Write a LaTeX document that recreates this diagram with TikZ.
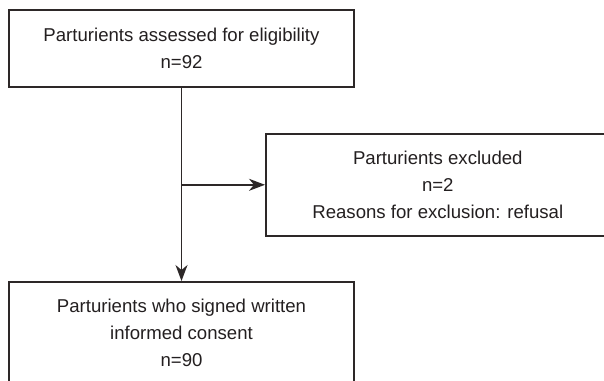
\documentclass[tikz,border=0pt]{standalone}
\usepackage{fontspec}
\setmainfont{Liberation Sans}
\usetikzlibrary{arrows.meta, positioning}
\definecolor{boxline}{RGB}{45,40,40}
\definecolor{boxtext}{RGB}{35,31,32}
\tikzset{
  flowbox/.style={rectangle, draw=boxline, line width=0.8pt,
                  text=boxtext, align=center, inner sep=0pt,
                  font=\fontsize{9.3}{13.5}\selectfont,
                  minimum width=172.5pt, minimum height=38.5pt},
  flowarr/.style={-{Stealth[length=8pt, width=6pt, inset=2.5pt]},
                  line width=0.75pt, color=boxline}
}

\begin{document}
\begin{tikzpicture}[x=0.5pt, y=-0.5pt]
  \useasboundingbox (0,0) rectangle (604,380);
  \clip (0,0) rectangle (604,380);

  % Boxes
  \node[flowbox] (elig) at (181.5,48.5)
    {Parturients assessed for eligibility\\n=92};
  \node[flowbox, minimum width=172pt, minimum height=51pt,
        anchor=north west] (excl) at (265,133)
    {Parturients excluded\\n=2\\Reasons for exclusion: refusal};
  \node[flowbox, minimum height=51pt, anchor=north] (cons) at (181.5,281)
    {Parturients who signed written\\informed consent\\n=90};

  % Arrows
  \coordinate (split) at (elig.south |- excl.west);
  \draw[flowarr] (elig.south) -- (cons.north);
  \draw[flowarr] (split) -- (excl.west);

\end{tikzpicture}
\end{document}
